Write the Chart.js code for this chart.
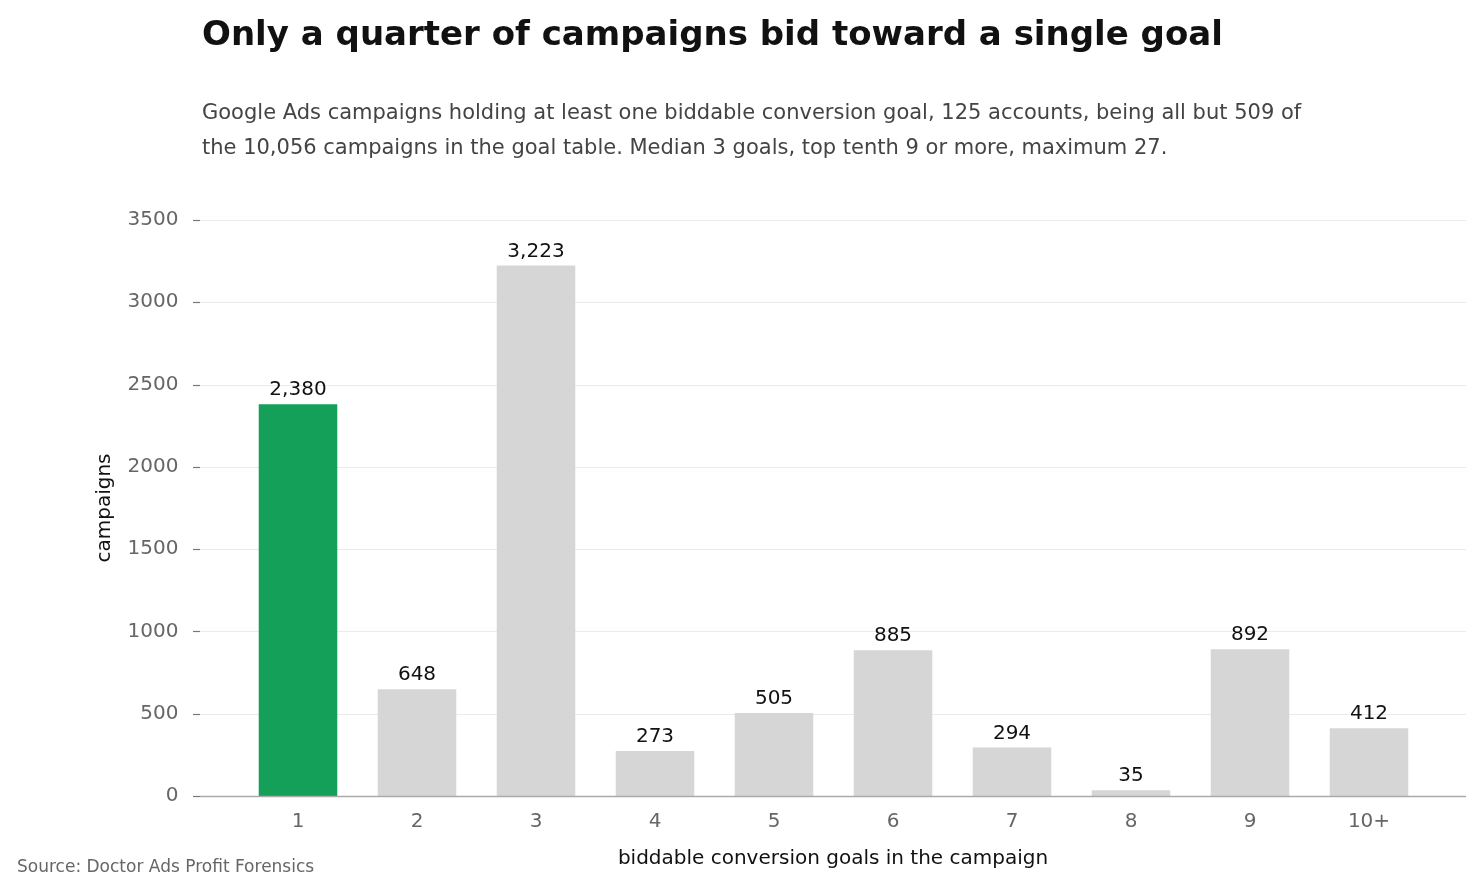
<!DOCTYPE html>
<html><head><meta charset="utf-8">
<script src="https://cdn.jsdelivr.net/npm/chart.js@4"></script>
<style>html,body{margin:0;padding:0;background:#fff;font-family:"DejaVu Sans",sans-serif}#w{width:1483px;height:894px}</style>
</head><body><div id="w"><canvas id="c"></canvas></div>
<span style="font-family:'DejaVu Sans';position:absolute;left:-999px">x</span>
<script>
const categories = ["1","2","3","4","5","6","7","8","9","10+"];
const campaigns = [2380,648,3223,273,505,885,294,35,892,412];
const yTicks = [0,500,1000,1500,2000,2500,3000,3500];
const F = '"DejaVu Sans", Verdana, sans-serif';
const gridPlugin = {
  id:'grid',
  beforeDatasetsDraw(ch){
    const c=ch.ctx, y=ch.scales.y; c.save();
    yTicks.forEach(v=>{
      const p=Math.round(y.getPixelForValue(v))+0.5;
      if(v>0){c.strokeStyle='#ebebeb';c.lineWidth=1.2;c.beginPath();c.moveTo(200,p);c.lineTo(1466,p);c.stroke();}
      c.strokeStyle='#777';c.lineWidth=1.2;c.beginPath();c.moveTo(193,p);c.lineTo(200,p);c.stroke();
    });
    c.restore();
  },
  afterDatasetsDraw(ch){
    const c=ch.ctx, p=Math.round(ch.scales.y.getPixelForValue(0))+0.5; c.save();
    c.strokeStyle='#aaa';c.lineWidth=1.5;c.beginPath();c.moveTo(200,p);c.lineTo(1466,p);c.stroke();c.restore();
  }
};
const textPlugin = {
  id:'txt',
  afterDraw(ch){
    const c=ch.ctx; c.save();
    c.textBaseline='alphabetic'; c.textAlign='left';
    c.fillStyle='#111'; c.font="bold 34px "+F; c.fillText("Only a quarter of campaigns bid toward a single goal",202,45);
    c.fillStyle='#444'; c.font="21px "+F;
    c.fillText("Google Ads campaigns holding at least one biddable conversion goal, 125 accounts, being all but 509 of",202,119);
    c.fillText("the 10,056 campaigns in the goal table. Median 3 goals, top tenth 9 or more, maximum 27.",202,154);
    c.fillStyle='#666'; c.font="17px "+F; c.fillText("Source: Doctor Ads Profit Forensics",17,872);
    c.fillStyle='#111'; c.font="20px "+F; c.textAlign='center';
    const a=ch.chartArea;
    c.fillText("biddable conversion goals in the campaign",833,864);
    c.save(); c.translate(110,(a.top+a.bottom)/2); c.rotate(-Math.PI/2); c.fillText("campaigns",0,0); c.restore();
    const m=ch.getDatasetMeta(0);
    c.font="20px "+F; c.fillStyle='#111';
    m.data.forEach((b,i)=>c.fillText(campaigns[i].toLocaleString('en-US'),b.x,b.y-9));
    c.restore();
  }
};
function draw(){
new Chart(document.getElementById('c'),{
  type:'bar',
  data:{labels:categories,datasets:[{data:campaigns,
    backgroundColor:campaigns.map((v,i)=>i===0?'#15a05a':'#d6d6d6'),
    barPercentage:0.66,categoryPercentage:1}]},
  options:{responsive:true,maintainAspectRatio:false,animation:false,
    layout:{padding:{top:220,right:54.5,left:0,bottom:0}},
    plugins:{legend:{display:false},tooltip:{enabled:false}},
    scales:{
      x:{grid:{display:false},border:{display:false},
        ticks:{color:'#666',font:{family:F,size:20},padding:6},
        afterFit(s){s.height=98;}},
      y:{min:0,max:3500,afterBuildTicks(s){s.ticks=yTicks.map(v=>({value:v}));},
        grid:{display:false},border:{display:false},
        ticks:{color:'#666',font:{family:F,size:20},padding:52,callback:v=>String(v)},
        afterFit(s){s.width=238.5;}}
    }},
  plugins:[gridPlugin,textPlugin]
});
}
(document.fonts?document.fonts.load('20px "DejaVu Sans"').catch(()=>{}):Promise.resolve()).then(draw);
</script></body></html>
